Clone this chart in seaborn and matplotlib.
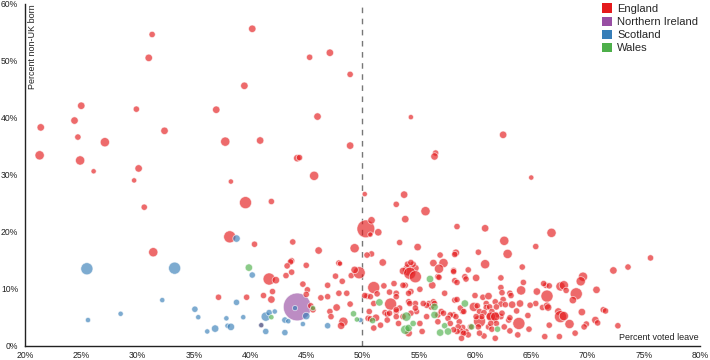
import matplotlib
matplotlib.use("Agg")
import matplotlib.pyplot as plt
import matplotlib.patches as mpatches
from matplotlib.ticker import PercentFormatter
import numpy as np
import pandas as pd
import seaborn as sns

# (percent voted leave, percent non-UK born, electorate in thousands)
england = [
    (31.3, 54.6, 65), (31.0, 50.5, 90), (25.0, 42.1, 90), (29.9, 41.5, 65), (37.0, 41.4, 90),
    (24.4, 39.5, 90), (21.4, 38.3, 90), (32.4, 37.7, 90), (24.7, 36.6, 65), (27.1, 35.7, 140),
    (37.8, 35.8, 140), (21.3, 33.4, 140), (24.9, 32.5, 140), (26.1, 30.6, 45), (30.1, 31.1, 90),
    (29.7, 29.0, 45), (38.3, 28.8, 45),
    (40.2, 55.6, 90), (45.3, 50.6, 65), (47.1, 51.4, 90), (48.9, 47.6, 65), (39.5, 45.6, 90),
    (46.0, 40.2, 90), (54.3, 40.1, 45), (40.9, 36.0, 90), (48.9, 35.1, 90), (44.2, 32.9, 90),
    (44.4, 33.0, 65), (56.5, 33.8, 65), (56.4, 33.2, 90), (45.7, 29.8, 140),
    (62.5, 37.0, 90), (65.0, 29.5, 45),
    (30.6, 24.3, 65), (38.2, 19.1, 240), (31.4, 16.4, 140), (37.2, 8.5, 65),
    (39.6, 25.1, 240), (41.9, 25.3, 65), (40.4, 17.8, 65), (43.8, 18.2, 65), (46.1, 16.7, 90),
    (50.3, 20.5, 520), (50.8, 22.0, 90), (51.4, 19.9, 90), (50.7, 19.5, 45), (49.3, 17.1, 140),
    (50.8, 16.1, 65), (50.4, 15.9, 65), (51.8, 14.6, 90), (43.7, 14.9, 65), (43.6, 14.7, 65),
    (43.3, 14.0, 65), (45.0, 14.1, 65), (43.7, 12.9, 65), (43.2, 12.3, 65), (47.9, 14.5, 65),
    (48.0, 14.4, 45), (47.6, 12.2, 65), (49.0, 12.3, 65), (49.7, 12.8, 240), (49.3, 13.3, 90),
    (41.7, 11.7, 240), (42.3, 11.5, 90), (41.2, 8.8, 65), (42.0, 9.5, 65), (41.9, 8.1, 90),
    (39.7, 8.5, 65), (44.7, 10.8, 65), (45.1, 9.8, 65), (45.0, 9.0, 65), (46.3, 8.4, 65),
    (46.9, 8.6, 65), (46.9, 10.6, 65), (48.6, 9.2, 65), (47.9, 9.2, 65), (48.9, 7.3, 65),
    (47.7, 6.7, 90), (47.1, 6.0, 65), (47.2, 5.1, 65), (48.3, 4.2, 140), (48.1, 3.5, 90),
    (45.4, 7.0, 65), (45.6, 6.3, 65), (48.2, 11.3, 65), (41.0, 3.6, 45),
    (50.2, 26.6, 45), (53.7, 26.5, 90), (53.0, 24.8, 65), (55.6, 23.6, 140), (53.8, 22.2, 90),
    (58.4, 20.9, 65), (60.9, 20.6, 90), (53.3, 18.1, 65), (54.9, 17.3, 90), (62.6, 18.4, 140),
    (65.4, 17.4, 65), (56.9, 15.9, 65), (58.3, 16.3, 90), (58.2, 16.0, 65), (60.3, 16.4, 65),
    (62.9, 16.1, 140), (56.3, 14.5, 90), (57.2, 14.5, 140), (56.8, 13.5, 140), (60.9, 14.3, 140),
    (64.2, 13.8, 65), (59.4, 13.3, 65), (58.1, 13.2, 65), (54.1, 13.3, 240), (53.6, 13.1, 90),
    (54.7, 13.6, 90), (54.0, 14.3, 65), (54.5, 14.3, 65), (54.3, 14.6, 65),
    (66.8, 19.8, 140), (72.3, 13.2, 90), (73.6, 13.8, 65), (75.6, 15.4, 65), (69.6, 12.1, 140),
    (69.4, 11.3, 140),
    (59.1, 12.1, 65), (59.2, 11.7, 65), (60.1, 11.9, 90), (62.3, 11.9, 65), (64.3, 11.1, 65),
    (70.8, 9.8, 90), (62.3, 10.2, 65), (62.4, 9.3, 65), (64.1, 9.7, 140), (65.5, 9.5, 90),
    (66.3, 10.6, 65), (66.6, 10.5, 65), (67.6, 10.4, 140), (67.9, 10.6, 140), (68.1, 9.7, 65),
    (69.0, 9.1, 240), (66.4, 8.7, 240), (68.7, 8.0, 90), (63.1, 9.2, 65), (63.2, 8.8, 65),
    (60.0, 8.8, 65), (60.7, 8.5, 65), (61.2, 8.7, 90), (62.5, 8.1, 65), (61.8, 7.7, 65),
    (61.0, 7.4, 65), (59.9, 6.8, 140), (61.0, 6.7, 65), (61.3, 6.8, 65), (62.3, 7.3, 65),
    (62.7, 7.2, 65), (63.3, 7.2, 90), (64.0, 7.4, 90), (66.0, 6.7, 65), (66.4, 7.0, 90),
    (66.5, 6.7, 90), (67.4, 6.0, 90), (67.6, 5.1, 240), (67.9, 5.2, 140), (69.5, 5.9, 90),
    (71.4, 6.3, 65), (71.6, 6.1, 65), (70.7, 4.5, 90), (70.9, 4.0, 65), (72.7, 3.5, 65),
    (68.4, 3.8, 140), (69.9, 3.8, 65), (69.7, 3.3, 65), (66.6, 3.6, 65), (68.9, 2.2, 65),
    (67.5, 1.6, 65), (66.2, 1.6, 65), (64.8, 2.9, 65), (63.8, 1.9, 65), (63.9, 3.9, 240),
    (63.0, 4.5, 65), (63.1, 2.6, 65), (62.6, 3.3, 65), (62.3, 5.1, 65), (61.9, 5.4, 65),
    (61.7, 4.5, 65), (61.3, 5.2, 90), (60.4, 4.3, 240), (60.3, 3.3, 65), (61.2, 3.3, 65),
    (60.8, 1.7, 65), (61.8, 1.3, 65), (60.4, 2.2, 65), (59.2, 2.5, 65), (58.9, 3.2, 65),
    (58.9, 2.2, 65), (58.9, 6.0, 65), (63.7, 6.1, 65), (64.7, 5.3, 65), (63.1, 4.9, 65),
    (54.2, 12.7, 240), (54.7, 12.1, 240), (56.2, 10.6, 90), (56.7, 12.1, 65), (56.8, 12.0, 65),
    (58.1, 13.0, 65), (58.2, 11.4, 65), (58.4, 11.1, 65), (66.1, 10.9, 65), (53.8, 10.6, 65),
    (54.3, 9.5, 65), (54.1, 9.2, 65), (55.1, 9.9, 65), (57.3, 9.2, 65), (65.4, 7.4, 65),
    (64.9, 7.1, 65), (61.9, 6.8, 65), (60.2, 7.0, 65), (58.2, 8.0, 65), (58.4, 8.1, 65),
    (58.7, 6.6, 65), (59.0, 6.0, 65), (60.4, 6.0, 65), (60.8, 5.8, 65), (61.5, 6.0, 65),
    (60.6, 5.1, 65), (61.4, 5.1, 140), (61.8, 5.1, 140), (62.4, 5.7, 65), (61.9, 3.9, 65),
    (61.4, 3.9, 65), (61.5, 2.9, 65), (60.1, 5.1, 65), (59.6, 3.3, 65), (59.4, 1.9, 65),
    (58.7, 2.6, 65), (59.0, 2.2, 65), (58.8, 1.3, 65), (58.6, 4.2, 65), (58.5, 3.3, 65),
    (58.4, 2.5, 65), (58.1, 2.8, 65), (58.1, 5.4, 65), (58.3, 5.1, 65), (57.8, 5.4, 65),
    (57.6, 4.8, 65), (57.8, 3.9, 65), (56.7, 4.2, 65), (56.7, 5.4, 65), (57.0, 6.0, 65),
    (57.2, 5.7, 65), (56.1, 6.8, 65), (55.9, 7.4, 65), (55.7, 7.1, 65), (55.4, 7.4, 65),
    (56.3, 7.7, 65), (56.4, 7.4, 65), (54.7, 7.4, 65), (54.1, 7.7, 65), (54.2, 7.4, 65),
    (53.3, 6.6, 65), (53.0, 6.0, 65), (53.6, 5.1, 65), (53.2, 3.9, 65), (54.1, 2.2, 90),
    (55.1, 3.9, 65), (55.3, 2.5, 65), (55.7, 5.1, 65), (54.8, 6.0, 65), (54.7, 6.6, 65),
    (54.3, 5.7, 65),
    (51.0, 10.2, 240), (50.4, 8.7, 65), (50.7, 8.6, 65), (51.3, 9.1, 65), (51.9, 10.5, 65),
    (52.8, 10.9, 65), (52.4, 9.4, 65), (53.0, 9.2, 65), (53.0, 8.6, 65), (51.0, 7.4, 65),
    (52.5, 7.3, 240), (50.6, 6.0, 65), (50.5, 4.8, 65), (50.7, 4.7, 65), (51.2, 4.9, 90),
    (51.0, 3.1, 65), (51.6, 3.6, 65), (52.0, 5.8, 65), (52.2, 5.5, 65), (52.4, 5.7, 65),
    (53.0, 5.1, 65), (53.0, 6.3, 65), (52.2, 4.5, 65), (50.2, 8.8, 65), (53.6, 10.6, 65),
]

northern_ireland = [(44.2, 6.8, 1260)]

scotland = [
    (38.8, 18.8, 90), (25.5, 13.5, 240), (33.3, 13.6, 240), (32.2, 8.0, 45), (38.8, 7.6, 65),
    (35.1, 6.4, 65), (28.5, 5.6, 45), (35.4, 5.0, 45), (25.6, 4.5, 45), (37.9, 4.8, 45),
    (36.9, 3.0, 90), (38.0, 3.5, 45), (38.3, 3.3, 90), (36.2, 2.5, 45), (40.2, 12.4, 65),
    (44.0, 6.6, 45), (45.0, 5.2, 90), (44.7, 3.8, 45), (43.1, 4.5, 65), (43.4, 4.3, 45),
    (43.1, 2.3, 65), (41.4, 5.1, 140), (41.7, 5.8, 65), (42.2, 6.0, 45), (41.0, 3.6, 45),
    (41.4, 2.5, 65), (39.4, 5.0, 45), (46.9, 3.5, 65), (49.8, 4.5, 45),
]

wales = [
    (39.9, 13.7, 90), (41.9, 5.0, 45), (49.2, 5.6, 65), (49.5, 4.6, 45), (51.5, 7.6, 90),
    (50.9, 4.4, 65), (56.0, 11.7, 90), (59.1, 7.4, 90), (59.7, 3.3, 65), (62.0, 2.9, 65),
    (56.4, 6.8, 90), (56.4, 5.4, 90), (53.9, 5.1, 140), (53.8, 2.8, 140), (54.1, 3.1, 90),
    (54.5, 3.9, 65), (57.3, 3.5, 65), (57.6, 2.5, 90), (56.9, 2.3, 90), (45.6, 6.6, 45),
]

countries = ["England", "Northern Ireland", "Scotland", "Wales"]
colors = ["#e41a1c", "#984ea3", "#377eb8", "#4daf4a"]

rows = []
for name, pts in zip(countries, [england, northern_ireland, scotland, wales]):
    for leave, nonuk, elect in pts:
        rows.append((name, leave, nonuk, elect))
df = pd.DataFrame(rows, columns=["country", "leave", "nonuk", "electorate"])
# draw the big NI circle first so the small ones show on top of it
df["order"] = (df["country"] != "Northern Ireland").astype(int)
df = df.sort_values("order", kind="stable")

sns.set_theme(style="white")
plt.rcParams["font.family"] = ["Liberation Sans", "DejaVu Sans"]

fig = plt.figure(figsize=(7.1, 3.6), dpi=100)
ax = fig.add_axes([25 / 710, 14.3 / 360, 675 / 710, 342 / 360])

sns.scatterplot(data=df, x="leave", y="nonuk", hue="country", hue_order=countries,
                palette=colors, size="electorate", sizes=(0, 400), size_norm=(0, 1260),
                alpha=0.65, edgecolor="white", linewidth=0.6, legend=False, ax=ax)

ax.axvline(50, color="#777777", lw=1, ls=(0, (4, 4)), zorder=0)

ax.set_xlim(20, 80)
ax.set_ylim(0, 60)
ax.set_xticks(np.arange(20, 81, 5))
ax.set_yticks(np.arange(0, 61, 10))
ax.xaxis.set_major_formatter(PercentFormatter(decimals=0))
ax.yaxis.set_major_formatter(PercentFormatter(decimals=0))
ax.tick_params(direction="out", width=1, color="#222222", labelsize=6.2,
               labelcolor="#222222", pad=1)
ax.tick_params(axis="x", length=3)
ax.tick_params(axis="y", length=4)
ax.set_xlabel("")
ax.set_ylabel("")
for side in ["top", "right"]:
    ax.spines[side].set_visible(False)
for side in ["left", "bottom"]:
    ax.spines[side].set_color("#222222")
    ax.spines[side].set_linewidth(1)

ax.text(0.005, 0.998, "Percent non-UK born", transform=ax.transAxes, rotation=90,
        ha="left", va="top", fontsize=6.5, color="#222222")
ax.text(0.998, 0.012, "Percent voted leave", transform=ax.transAxes,
        ha="right", va="bottom", fontsize=6.5, color="#222222")

handles = [mpatches.Patch(facecolor=c, edgecolor="none", label=n) for n, c in zip(countries, colors)]
fig.legend(handles=handles, loc="upper left", bbox_to_anchor=(599 / 710, 1.0), frameon=False,
           fontsize=8, handlelength=0.9, handleheight=0.9, handletextpad=0.45,
           labelspacing=0.25, borderaxespad=0.1, borderpad=0.2)

fig.savefig("out.png", dpi=100)
